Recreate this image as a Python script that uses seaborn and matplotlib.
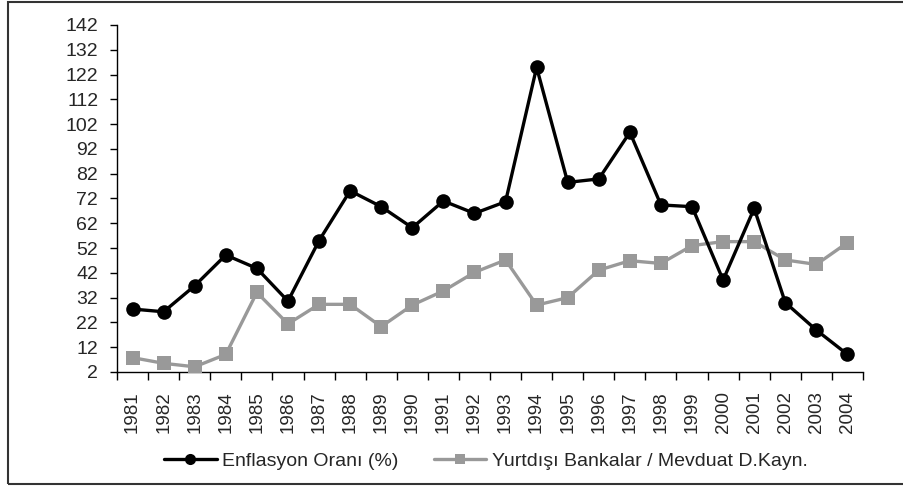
import matplotlib
matplotlib.use("Agg")
import matplotlib.pyplot as plt
from matplotlib.patches import Rectangle
from matplotlib.lines import Line2D
import numpy as np
import pandas as pd
import seaborn as sns

years = [str(y) for y in range(1981, 2005)]
enflasyon = [27.4, 26.3, 36.8, 49.2, 43.8, 30.6, 55.0, 75.1, 68.7, 60.2, 71.0, 66.0,
             70.7, 124.9, 78.5, 79.9, 98.7, 69.4, 68.7, 39.1, 68.0, 30.0, 18.9, 9.1]
yurtdisi = [7.8, 5.5, 4.1, 9.1, 34.1, 21.4, 29.3, 29.3, 20.3, 29.0, 34.7, 42.2,
            47.2, 29.0, 32.0, 43.1, 46.9, 45.8, 53.0, 54.6, 54.6, 47.2, 45.4, 54.2]
series_names = ["Enflasyon Oranı (%)", "Yurtdışı Bankalar / Mevduat D.Kayn."]
yticks = list(range(2, 143, 10))

sns.set_theme(style="white")
plt.rcParams['font.family'] = ['Liberation Sans', 'DejaVu Sans']

df = pd.DataFrame({
    "Yıl": years * 2,
    "Değer": enflasyon + yurtdisi,
    "Seri": [series_names[0]] * len(years) + [series_names[1]] * len(years),
})

colors = {series_names[0]: "#000000", series_names[1]: "#999999"}

fig = plt.figure(figsize=(9.04, 4.86), dpi=100)
ax = fig.add_axes([117 / 904, 1 - 372 / 486, (863 - 117) / 904, (372 - 25) / 486])

sns.pointplot(data=df, x="Yıl", y="Değer", hue="Seri", hue_order=series_names,
              palette=colors, markers=["o", "s"], linestyles=["-", "-"],
              markersize=10.5, linewidth=2.4, ax=ax, legend=False,
              errorbar=None)

for ln in ax.lines:
    c = matplotlib.colors.to_hex(ln.get_color())
    ln.set_zorder(4 if c == "#000000" else 3)
    ln.set_markeredgewidth(0)
for coll in ax.collections:
    coll.set_linewidth(0)

ax.set_ylim(2, 142)
ax.set_xlim(-0.5, len(years) - 0.5)
ax.set_yticks(yticks)
ax.set_yticklabels([str(v) for v in yticks], fontsize=14)
ax.set_xticks(range(len(years)))
ax.set_xticklabels(years, rotation=90, fontsize=13.5)
ax.set_xticks(np.arange(-0.5, len(years), 1.0), minor=True)
ax.tick_params(axis="x", which="major", length=0, pad=14)
ax.tick_params(axis="x", which="minor", length=6, width=1, color="black", direction="out", bottom=True)
ax.tick_params(axis="y", which="major", length=5, width=1, color="black", direction="out", left=True, pad=8.5)
ax.set_xlabel("")
ax.set_ylabel("")
for s in ["top", "right"]:
    ax.spines[s].set_visible(False)
for s in ["left", "bottom"]:
    ax.spines[s].set_color("black")
    ax.spines[s].set_linewidth(1.0)
ax.grid(False)

handles = [
    Line2D([], [], color="#000000", marker="o", markersize=8, linewidth=2.4, markeredgewidth=0),
    Line2D([], [], color="#999999", marker="s", markersize=7, linewidth=2.4, markeredgewidth=0),
]
fig.legend(handles, series_names, loc="center", bbox_to_anchor=(486 / 904, 1 - 461 / 486),
           ncol=2, frameon=False, fontsize=14, handlelength=2.7, columnspacing=1.8,
           handletextpad=0.3)

frame = Rectangle((8 / 904, 2 / 486), 1.2, 1 - 4 / 486, transform=fig.transFigure,
                  fill=False, edgecolor="#333333", linewidth=1.5)
fig.patches.append(frame)

fig.savefig("out.png", dpi=100)
